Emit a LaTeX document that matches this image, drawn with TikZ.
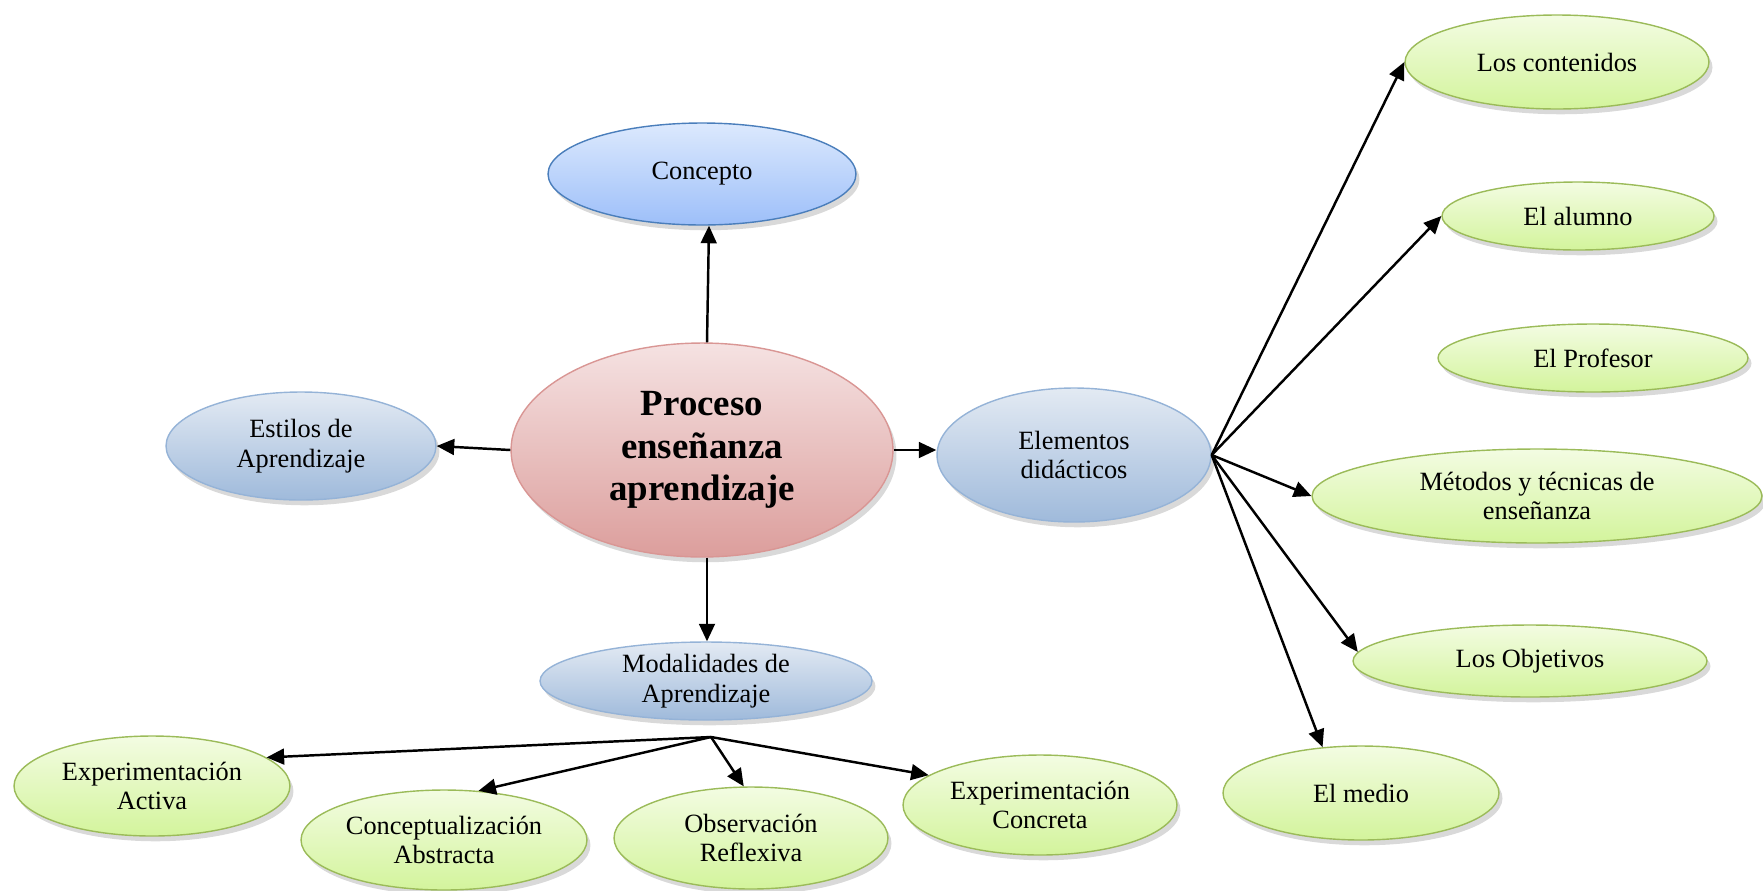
\documentclass[tikz,border=0pt]{standalone}
\usepackage{fontspec}
\setmainfont{Liberation Serif}
\usetikzlibrary{shapes.geometric,arrows.meta,shadows}

\definecolor{rosaA}{HTML}{F5E2E2}
\definecolor{rosaB}{HTML}{DC9E9C}
\definecolor{rosaL}{HTML}{D99694}
\definecolor{azulA}{HTML}{DCE9FD}
\definecolor{azulB}{HTML}{9DBFF9}
\definecolor{azulL}{HTML}{4A7EBB}
\definecolor{aceroA}{HTML}{E3EAF3}
\definecolor{aceroB}{HTML}{9FBADB}
\definecolor{aceroL}{HTML}{95B3D7}
\definecolor{verdeA}{HTML}{F3FCE2}
\definecolor{verdeB}{HTML}{D3F49C}
\definecolor{verdeL}{HTML}{9BBB59}

\begin{document}
\begin{tikzpicture}[x=0.02cm,y=-0.02cm,
	elip/.style={ellipse,inner sep=0pt,align=center,font=\fontsize{15}{17}\selectfont,
		drop shadow={opacity=0.3,shadow xshift=2pt,shadow yshift=-3pt}},
	central/.style={elip,draw=rosaL,line width=0.8pt,top color=rosaA,bottom color=rosaB,
		font=\fontsize{21}{24}\selectfont\bfseries},
	concepto/.style={elip,draw=azulL,line width=0.8pt,top color=azulA,bottom color=azulB},
	rama/.style={elip,draw=aceroL,line width=0.8pt,top color=aceroA,bottom color=aceroB},
	hoja/.style={elip,draw=verdeL,line width=0.8pt,top color=verdeA,bottom color=verdeB},
	flecha/.style={-{Triangle[length=10pt,width=9pt]},line width=1.4pt}]
	\useasboundingbox (0,0) rectangle (1763,890);
	% nodos principales
	\node[central,minimum width=7.64cm,minimum height=4.28cm] (pea) at (702,450) {Proceso\\enseñanza\\aprendizaje};
	\node[concepto,minimum width=6.16cm,minimum height=2.04cm] (conc) at (702,174) {Concepto};
	\node[rama,minimum width=5.4cm,minimum height=2.16cm] (est) at (301,446) {Estilos de\\Aprendizaje};
	\node[rama,minimum width=5.48cm,minimum height=2.68cm] (elem) at (1074,455) {Elementos\\didácticos};
	\node[rama,minimum width=6.64cm,minimum height=1.56cm] (mod) at (706,681) {Modalidades de\\Aprendizaje};
	\coordinate (modbase) at (711,737);
	% elementos didacticos
	\node[hoja,minimum width=6.08cm,minimum height=1.88cm] (cont) at (1557,62) {Los contenidos};
	\node[hoja,minimum width=5.44cm,minimum height=1.36cm] (alum) at (1578,216) {El alumno};
	\node[hoja,minimum width=6.2cm,minimum height=1.36cm] (prof) at (1593,358) {El Profesor};
	\node[hoja,minimum width=9cm,minimum height=1.88cm] (met) at (1537,496) {Métodos y técnicas de\\enseñanza};
	\node[hoja,minimum width=7.08cm,minimum height=1.44cm] (obj) at (1530,661) {Los Objetivos};
	\node[hoja,minimum width=5.52cm,minimum height=1.88cm] (medio) at (1361,793) {El medio};
	% modalidades
	\node[hoja,minimum width=5.52cm,minimum height=2cm] (ea) at (152,786) {Experimentación\\Activa};
	\node[hoja,minimum width=5.72cm,minimum height=2cm] (ca) at (444,840) {Conceptualización\\Abstracta};
	\node[hoja,minimum width=5.48cm,minimum height=2.04cm] (or) at (751,838) {Observación\\Reflexiva};
	\node[hoja,minimum width=5.48cm,minimum height=2cm] (ec) at (1040,805) {Experimentación\\Concreta};
	% flechas
	\draw[flecha] ([xshift=0.1cm]pea.north) -- ([xshift=0.14cm]conc.south);
	\draw[flecha] (pea.west) -- (est.east);
	\draw[flecha] (pea.east) -- (pea.east -| elem.west);
	\draw[flecha] ([xshift=0.1cm]pea.south) -- ([xshift=0.1cm]pea.south |- mod.north);
	\foreach \d/\a in {cont/180,alum/180,met/180,obj/177,medio/130}
		\draw[flecha] (elem.east) -- (\d.\a);
	\foreach \d/\a in {ea/14,ca/55,or/98,ec/165}
		\draw[flecha] (modbase) -- (\d.\a);
\end{tikzpicture}
\end{document}
